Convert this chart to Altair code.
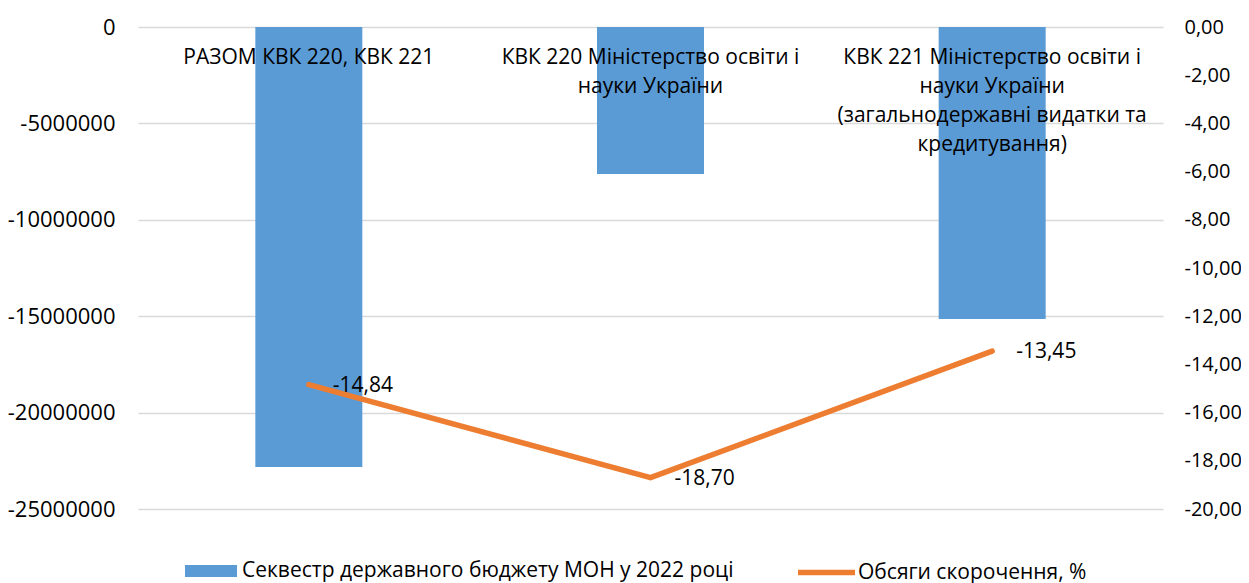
import altair as alt
import pandas as pd

categories = [
    "РАЗОМ КВК 220, КВК 221",
    "КВК 220 Міністерство освіти і науки України",
    "КВК 221 Міністерство освіти і науки України (загальнодержавні видатки та кредитування)",
]
label_lines = [
    ["РАЗОМ КВК 220, КВК 221"],
    ["КВК 220 Міністерство освіти і", "науки України"],
    ["КВК 221 Міністерство освіти і", "науки України", "(загальнодержавні видатки та", "кредитування)"],
]
sequester = [-22820000, -7620000, -15150000]
cut_pct = [-14.84, -18.70, -13.45]
bar_series = "Секвестр державного бюджету МОН у 2022 році"
line_series = "Обсяги скорочення, %"
left_ticks = [0, -5000000, -10000000, -15000000, -20000000, -25000000]
right_ticks = [0, -2, -4, -6, -8, -10, -12, -14, -16, -18, -20]

BLUE = "#5b9bd5"
ORANGE = "#ed7d31"
FONT = "Open Sans"
FS = 21

df = pd.DataFrame({
    "cat": categories,
    "label": ["\n".join(l) for l in label_lines],
    "value": sequester,
    "pct": cut_pct,
    "zero": [0] * len(categories),
    "bar_series": [bar_series] * len(categories),
    "line_series": [line_series] * len(categories),
})

base = alt.Chart(df)
x = alt.X("cat:N", sort=categories, axis=None,
          scale=alt.Scale(paddingInner=0, paddingOuter=0))

left_scale = alt.Scale(domain=[-25000000, 0], nice=False, zero=True)
left_axis = alt.Axis(values=left_ticks, labelExpr="'' + datum.value", title=None,
                     grid=True, gridColor="#d9d9d9", gridWidth=1.5,
                     domain=False, ticks=False, labelPadding=23, labelFontSize=22)
right_scale = alt.Scale(domain=[-20, 0], nice=False)
right_axis = alt.Axis(orient="right", values=right_ticks, grid=False, domain=False,
                      ticks=False, labelPadding=21, title=None, labelFontSize=20,
                      labelExpr="replace(replace(format(datum.value, '.2f'), '.', ','), '\u2212', '-')")

bars = base.mark_bar(size=107).encode(
    x=x,
    y=alt.Y("value:Q", title=None, scale=left_scale, axis=left_axis),
    fill=alt.Fill("bar_series:N", scale=alt.Scale(domain=[bar_series], range=[BLUE]),
                  legend=alt.Legend(title=None, orient="none", legendX=47, legendY=518,
                                    symbolType="M-1,-0.23H1V0.23H-1Z", symbolSize=2704,
                                    symbolStrokeWidth=0, labelOffset=5, padding=0,
                                    labelLimit=1000)),
)

cat_text = base.mark_text(baseline="line-top", lineBreak="\n", lineHeight=29,
                          fontSize=FS, font=FONT, dy=15.5, color="#000000").encode(
    x=x,
    y=alt.Y("zero:Q", title=None, scale=left_scale, axis=left_axis),
    text="label:N",
)

line = base.mark_line(strokeWidth=5.5, strokeCap="round", strokeJoin="round").encode(
    x=x,
    y=alt.Y("pct:Q", title=None, scale=right_scale, axis=right_axis),
    stroke=alt.Stroke("line_series:N", scale=alt.Scale(domain=[line_series], range=[ORANGE]),
                      legend=alt.Legend(title=None, orient="none", legendX=657, legendY=514,
                                        symbolType="stroke", symbolSize=3249,
                                        symbolStrokeWidth=5.5, labelOffset=0, padding=0,
                                        labelLimit=1000)),
)

line_text = base.mark_text(align="left", baseline="middle", dx=24, dy=1,
                           fontSize=FS, font=FONT, color="#000000").transform_calculate(
    pct_label="replace(replace(format(datum.pct, '.2f'), '.', ','), '\u2212', '-')"
).encode(
    x=x,
    y=alt.Y("pct:Q", title=None, scale=right_scale, axis=right_axis),
    text="pct_label:N",
)

left = alt.layer(bars, cat_text)
right = alt.layer(line, line_text)

chart = alt.layer(left, right).resolve_scale(y="independent").properties(
    width=1025, height=482,
    autosize=alt.AutoSizeParams(type="none"),
    padding={"left": 130, "top": 19, "right": 78, "bottom": 74},
).configure_view(stroke=None).configure_axis(
    labelFont=FONT, labelColor="#000000",
).configure_legend(
    labelFont=FONT, labelFontSize=FS, labelColor="#000000",
)

chart.save("out.html", embed_options={"renderer": "svg", "actions": False})
